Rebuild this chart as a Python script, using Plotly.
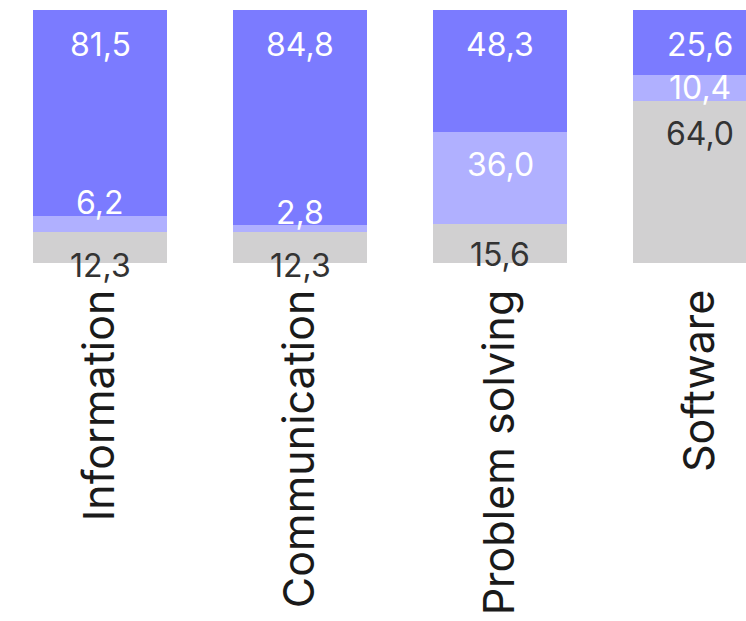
import plotly.graph_objects as go

# Share of responses per skill area (percent), stacked bottom to top
categories = ["Information", "Communication", "Problem solving", "Software"]
series_names = ["Low", "Basic", "Above basic"]
low = [12.3, 12.3, 15.6, 64.0]
basic = [6.2, 2.8, 36.0, 10.4]
above = [81.5, 84.8, 48.3, 25.6]

colors = ["#d1d0d1", "#b0b0ff", "#7b7bff"]
label_colors = ["#333333", "#ffffff", "#ffffff"]
# vertical pixel offset of each value label, measured from the top of its segment
label_shift = [
    [-34, -34, -31, -32],
    [14, 12, -32, -13],
    [-34, -34, -34, -34],
]

FONT = "Inter"

fig = go.Figure()
stack = [low, basic, above]
for name, vals, col in zip(series_names, stack, colors):
    fig.add_trace(go.Bar(
        x=categories, y=vals, name=name,
        marker=dict(color=col, line=dict(width=0)),
        hoverinfo="skip",
    ))

# value labels, anchored to the top of each stacked segment
cum = [0.0] * len(categories)
for s, vals in enumerate(stack):
    for i, v in enumerate(vals):
        cum[i] += v
        fig.add_annotation(
            x=categories[i], y=cum[i], yshift=label_shift[s][i],
            text=f"{v:.1f}".replace(".", ","),
            showarrow=False, yanchor="middle", xanchor="center",
            font=dict(family=FONT, size=32, color=label_colors[s]),
        )

fig.update_layout(
    barmode="stack",
    bargap=0.333,
    width=746, height=621,
    margin=dict(l=0, r=0, t=10, b=358),
    paper_bgcolor="white", plot_bgcolor="white",
    showlegend=False,
    font=dict(family=FONT),
)
fig.update_xaxes(
    range=[-0.5, 3.23],
    tickangle=-90,
    tickfont=dict(family=FONT, size=43, color="#1a1a1a"),
    showgrid=False, zeroline=False, showline=False,
    ticks="", ticklabelstandoff=17,
)
fig.update_yaxes(
    range=[0, 100], visible=False, showgrid=False, zeroline=False,
)

fig.write_html("out.html")
